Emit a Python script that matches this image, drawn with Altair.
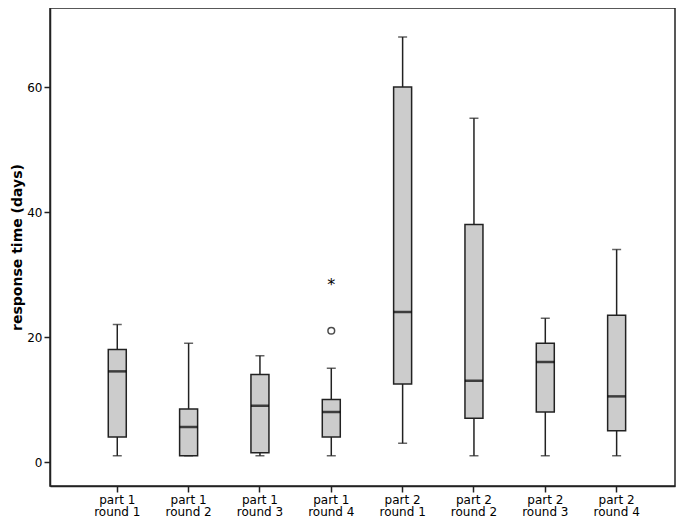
import altair as alt
import pandas as pd

groups = ["part 1|round 1", "part 1|round 2", "part 1|round 3", "part 1|round 4",
          "part 2|round 1", "part 2|round 2", "part 2|round 3", "part 2|round 4"]
lower = [1, 1, 1, 1, 3, 1, 1, 1]
q1 = [4, 1, 1.5, 4, 12.5, 7, 8, 5]
median = [14.5, 5.6, 9, 8, 24, 13, 16, 10.5]
q3 = [18, 8.5, 14, 10, 60, 38, 19, 23.5]
upper = [22, 19, 17, 15, 68, 55, 23, 34]

outlier_group = ["part 1|round 4"]
outlier_value = [21]
extreme_group = ["part 1|round 4"]
extreme_value = [29]

df = pd.DataFrame({"g": groups, "lo": lower, "q1": q1, "med": median, "q3": q3, "hi": upper})
df_out = pd.DataFrame({"g": outlier_group, "v": outlier_value})
df_ext = pd.DataFrame({"g": extreme_group, "v": extreme_value})

FONT = "DejaVu Sans"

xscale = alt.Scale(domain=groups, paddingInner=0, paddingOuter=0.3806, align=0.582)
yscale = alt.Scale(domain=[-3.84, 72.64], nice=False, zero=False)

xenc = alt.X("g:N", scale=xscale, sort=groups, title=None,
             axis=alt.Axis(labelExpr="split(datum.label, '|')", labelAngle=0,
                           tickSize=6, labelPadding=2, labelFont=FONT, labelFontSize=12,
                           labelColor="black", labelLineHeight=12.5, labelBaseline="top",
                           domainColor="#222", domainWidth=1.5, tickColor="#222", tickWidth=1.5))
yaxis = alt.Axis(values=[0, 20, 40, 60], grid=False, tickSize=6, labelPadding=2,
                 labelFont=FONT, labelFontSize=12, labelColor="black",
                 title="response time (days)", titleFont=FONT, titleFontSize=14,
                 titleFontWeight="bold", titleColor="black", titlePadding=2,
                 domainColor="#222", domainWidth=1.5, tickColor="#222", tickWidth=1.5)

base = alt.Chart(df)

whisker = base.mark_rule(color="#222", strokeWidth=1.5).encode(
    x=xenc, y=alt.Y("lo:Q", scale=yscale, axis=yaxis), y2="hi:Q")
cap_lo = base.mark_tick(color="#222", size=9, thickness=1.5).encode(x=xenc, y=alt.Y("lo:Q", scale=yscale))
cap_hi = base.mark_tick(color="#222", size=9, thickness=1.5).encode(x=xenc, y=alt.Y("hi:Q", scale=yscale))
box = base.mark_bar(size=18, fill="#cccccc", stroke="#222", strokeWidth=1.5).encode(
    x=xenc, y=alt.Y("q1:Q", scale=yscale), y2="q3:Q")
med = base.mark_tick(color="black", size=18, thickness=2.5).encode(x=xenc, y=alt.Y("med:Q", scale=yscale))
outl = alt.Chart(df_out).mark_point(shape="circle", filled=False, color="black", size=45, strokeWidth=1.5).encode(
    x=xenc, y=alt.Y("v:Q", scale=yscale))
ext = alt.Chart(df_ext).mark_text(text="*", font=FONT, fontSize=16, color="black", baseline="middle", dy=4).encode(
    x=xenc, y=alt.Y("v:Q", scale=yscale))

chart = alt.layer(whisker, cap_lo, cap_hi, box, med, outl, ext).properties(
    width=625, height=478,
    autosize=alt.AutoSizeParams(type="none"),
    padding={"left": 42, "top": 0, "right": 2, "bottom": 32},
).configure_view(stroke="#222", strokeWidth=1.5)

chart.save("out.html", embed_options={"renderer": "svg", "actions": False})
